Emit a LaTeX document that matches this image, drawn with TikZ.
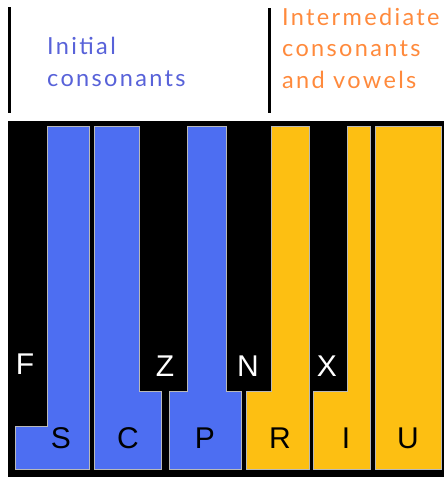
\documentclass[tikz,border=0pt]{standalone}
\usepackage{fontspec}
\setmainfont{Liberation Sans}
\newfontfamily\handfont[LetterSpace=10]{Lato}
\definecolor{keyblue}{HTML}{4D6EF2}
\definecolor{keygold}{HTML}{FDBF12}
\definecolor{txtblue}{HTML}{5862D9}
\definecolor{txtorange}{HTML}{FF8A3C}
\tikzset{
  keyshape/.style={draw=gray!55, line width=0.8pt},
  bluekey/.style={keyshape, fill=keyblue},
  goldkey/.style={keyshape, fill=keygold},
  whitelet/.style={inner sep=0pt, text=white, font=\fontsize{30}{30}\selectfont},
  blacklet/.style={inner sep=0pt, text=black, font=\fontsize{30}{30}\selectfont},
  headblue/.style={inner sep=0pt, anchor=base west, text=txtblue, font=\handfont\fontsize{23.5}{32}\selectfont},
  headorange/.style={inner sep=0pt, anchor=base west, text=txtorange, font=\handfont\fontsize{23.5}{32}\selectfont},
  divider/.style={line width=3pt, black}
}
\begin{document}
\begin{tikzpicture}[x=1pt,y=-1pt]
\useasboundingbox (0,0) rectangle (444,477);
\fill[white] (0,0) rectangle (444,477);
% header
\draw[divider] (9,7) -- (9,113);
\draw[divider] (269,8) -- (269,113);
\node[headblue] (h1a) at (47,54) {Initial};
\node[headblue] (h1b) at (47,86) {consonants};
\node[headorange] (h2a) at (282,25) {Intermediate};
\node[headorange] (h2b) at (282,56) {consonants};
\node[headorange] (h2c) at (282,88) {and vowels};
% keyboard background
\fill[black] (8,121) rectangle (444,477);
% keys
\draw[bluekey] (47,126) -- (89,126) -- (89,469) -- (15,469) -- (15,426) -- (47,426) -- cycle;
\draw[bluekey] (94,126) -- (139,126) -- (139,391) -- (161,391) -- (161,469) -- (94,469) -- cycle;
\draw[bluekey] (187,126) -- (226,126) -- (226,391) -- (241,391) -- (241,469) -- (169,469) -- (169,391) -- (187,391) -- cycle;
\draw[goldkey] (271,126) -- (309,126) -- (309,469) -- (246,469) -- (246,391) -- (271,391) -- cycle;
\draw[goldkey] (347,126) -- (370,126) -- (370,469) -- (313,469) -- (313,391) -- (347,391) -- cycle;
\draw[goldkey] (375,126) -- (441,126) -- (441,469) -- (375,469) -- cycle;
% letters
\node[whitelet] (F) at (25,364) {F};
\node[whitelet] (Z) at (165,366) {Z};
\node[whitelet] (N) at (248,366) {N};
\node[whitelet] (X) at (327,366) {X};
\node[blacklet] (S) at (61,438) {S};
\node[blacklet] (C) at (128,438) {C};
\node[blacklet] (P) at (205,438) {P};
\node[blacklet] (R) at (280,438) {R};
\node[blacklet] (I) at (346,438) {I};
\node[blacklet] (U) at (408,438) {U};
\end{tikzpicture}
\end{document}
